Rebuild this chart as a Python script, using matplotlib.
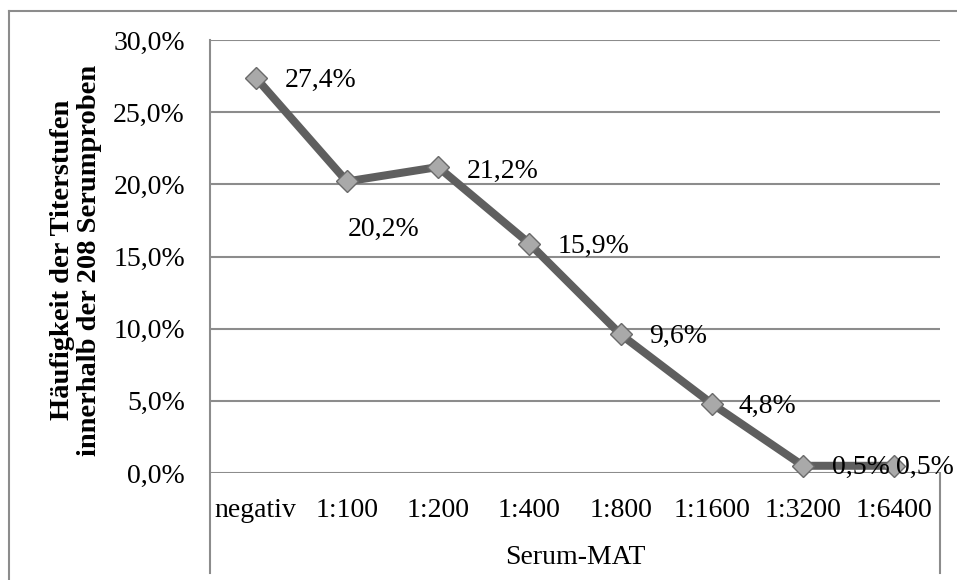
import matplotlib
import matplotlib.pyplot as plt
from matplotlib.lines import Line2D
from matplotlib.ticker import FuncFormatter

matplotlib.use("Agg")

# ---------------------------------------------------------------------------
# Data
# ---------------------------------------------------------------------------
categories = ["negativ", "1:100", "1:200", "1:400", "1:800", "1:1600", "1:3200", "1:6400"]
anteil = [0.274, 0.202, 0.212, 0.159, 0.096, 0.048, 0.005, 0.005]
label_text = ["27,4%", "20,2%", "21,2%", "15,9%", "9,6%", "4,8%", "0,5%", "0,5%"]
y_ticks = [0.0, 0.05, 0.10, 0.15, 0.20, 0.25, 0.30]

# label offsets (pixels, left edge of text relative to point)
label_off = [(29, -3), (1, -48), (29, -4), (28, -3), (29, -2), (27, -3), (29, -2), (2, -2)]

# ---------------------------------------------------------------------------
# Style
# ---------------------------------------------------------------------------
W, H = 957, 580
PX = 72 / 100          # pixel -> point
FS = 20
GRID = "#8c8c8c"
LINE = "#5f5f5f"

plt.rcParams.update({
    "font.family": ["Liberation Serif", "DejaVu Serif"],
    "font.size": FS,
})

fig = plt.figure(figsize=(W / 100, H / 100), dpi=100)

# plot area in pixels: x 210..940, y 40..473
x0, x1, y0, y1 = 210, 940, 40, 473
ax = fig.add_axes([x0 / W, 1 - y1 / H, (x1 - x0) / W, (y1 - y0) / H])

xs = list(range(len(categories)))
ax.plot(xs, anteil, color=LINE, lw=8 * PX, solid_joinstyle="miter", zorder=3,
        clip_on=False)
ax.plot(xs, anteil, ls="none", marker="D", ms=11.5, mfc="#a9a9a9",
        mec="#6a6a6a", mew=1.0, zorder=4, clip_on=False)

for xi, yi, txt, (dx, dy) in zip(xs, anteil, label_text, label_off):
    ax.annotate(txt, (xi, yi), xytext=(dx * PX, dy * PX), textcoords="offset points",
                ha="left", va="center", fontsize=FS, color="black",
                annotation_clip=False, zorder=5)

ax.set_xlim(-0.5, len(categories) - 0.5)
ax.set_ylim(0, 0.30)
ax.set_yticks(y_ticks)
ax.yaxis.set_major_formatter(FuncFormatter(lambda v, p: f"{v * 100:.1f}%".replace(".", ",")))
ax.set_xticks(xs)
ax.set_xticklabels(categories)
ax.tick_params(axis="y", length=0, pad=18, labelsize=FS)
ax.tick_params(axis="x", length=0, pad=18, labelsize=FS)

for s in ax.spines.values():
    s.set_visible(False)
ax.grid(axis="y", color=GRID, lw=1.5)
ax.set_axisbelow(True)

# left axis line (extends into category area) and right separator below axis
below = (573 - y1) / (y1 - y0)
ax.plot([0, 0], [1, -below], transform=ax.transAxes, color=GRID, lw=1.5, clip_on=False)
ax.plot([1, 1], [0, -below], transform=ax.transAxes, color=GRID, lw=1.5, clip_on=False)

ax.set_xlabel("Serum-MAT", fontsize=FS, labelpad=16)

fig.text(76 / W, 1 - 260 / H,
         "Häufigkeit der Titerstufen\ninnerhalb der 208 Serumproben",
         rotation=90, ha="center", va="center", fontsize=20.5, fontweight="bold",
         multialignment="center", linespacing=1.1)

# outer chart border (left and top)
fig.add_artist(Line2D([9 / W, 9 / W], [0, 1 - 11 / H], color=GRID, lw=1.5))
fig.add_artist(Line2D([9 / W, 1], [1 - 11 / H, 1 - 11 / H], color=GRID, lw=1.5))

fig.savefig("out.png", dpi=100)
